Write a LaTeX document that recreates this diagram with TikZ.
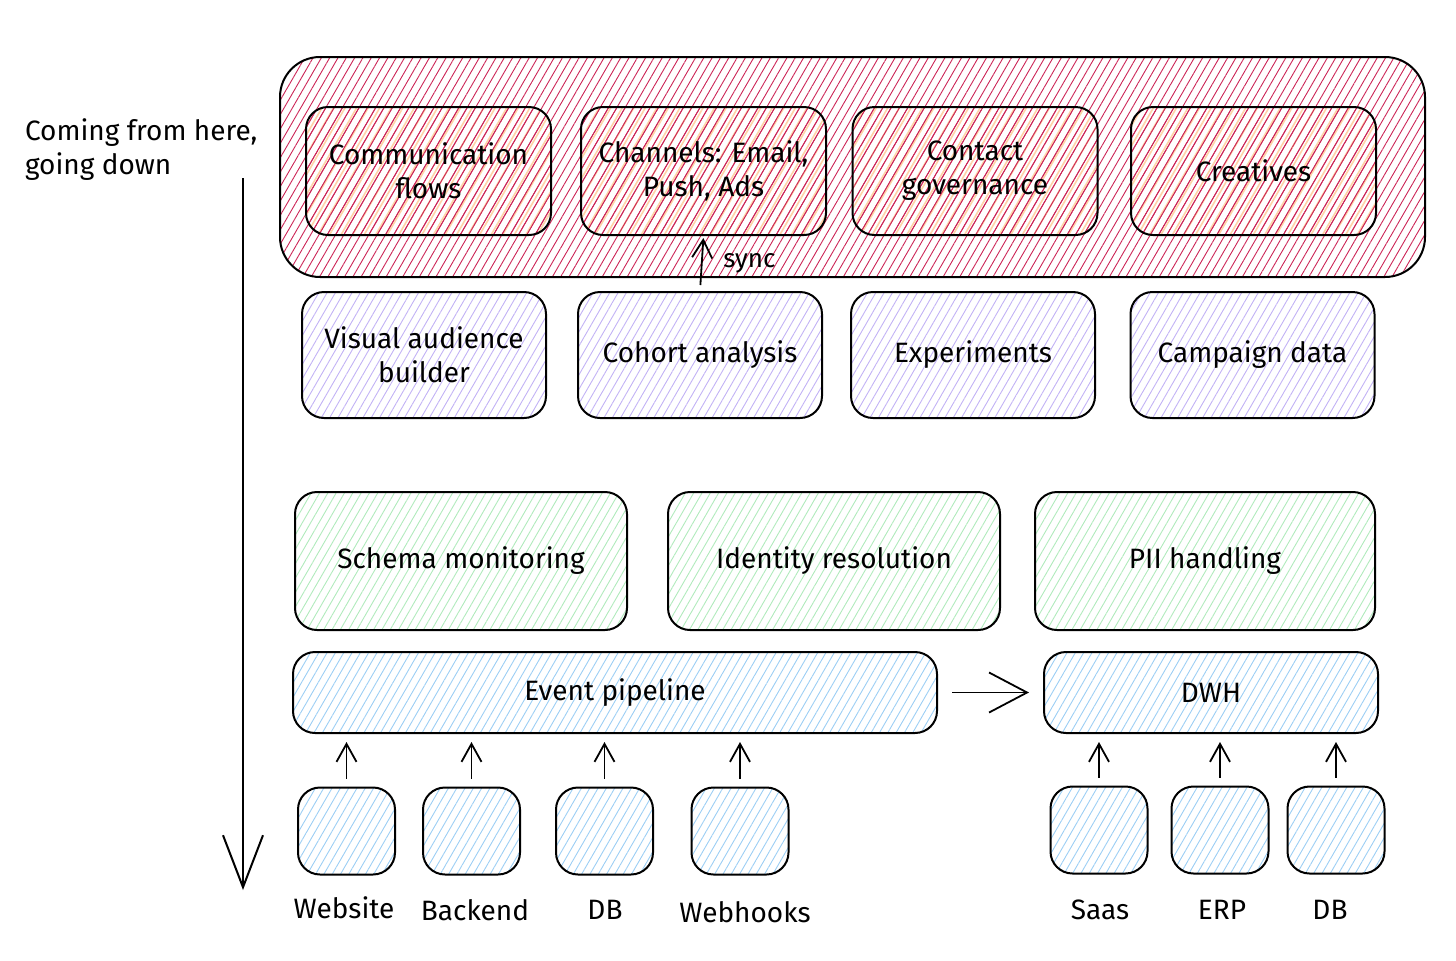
\documentclass[tikz,border=0pt]{standalone}
\usepackage{fontspec}
\setmainfont{Fira Sans}
\usetikzlibrary{arrows.meta}
\usetikzlibrary{patterns.meta}

\definecolor{hatchred}{HTML}{CC2557}
\definecolor{hatchpeach}{HTML}{FFD3A8}
\definecolor{hatchviolet}{HTML}{C2B2F5}
\definecolor{hatchgreen}{HTML}{B0EABC}
\definecolor{hatchblue}{HTML}{9CCEF4}

\tikzset{
  hatch/.style={pattern={Lines[angle=60,distance=3.6pt,line width=0.45pt]}, pattern color=#1},
  box/.style={draw=black, line width=1pt, rounded corners=11pt, align=center,
    font=\fontsize{14}{17}\selectfont},
  actbox/.style={box, hatch=hatchred,
    preaction={pattern={Lines[angle=60,distance=5pt,line width=0.8pt,xshift=1.6pt]}, pattern color=hatchpeach},
    minimum width=122.5pt, minimum height=64pt},
  segbox/.style={box, hatch=hatchviolet, minimum width=122pt, minimum height=63pt},
  dqbox/.style={box, hatch=hatchgreen, minimum height=69pt},
  srcbox/.style={box, hatch=hatchblue},
  smallsrc/.style={srcbox, minimum width=48.5pt, minimum height=43.5pt},
  srclabel/.style={font=\fontsize{14}{17}\selectfont},
  flow/.style={-{Straight Barb[length=9pt,width=10pt]}, line width=0.9pt, shorten <=4pt, shorten >=4pt}
}

\begin{document}
\begin{tikzpicture}[x=0.5pt, y=-0.5pt]
  \useasboundingbox (0,0) rectangle (1456,960);

  % activation layer
  \node[draw=black, line width=1pt, rounded corners=20pt, hatch=hatchred,
    minimum width=572.5pt, minimum height=110pt] (act) at (852.5,167) {};
  \node[actbox] (flows) at (428.5,171) {Communication\\flows};
  \node[actbox] (chn) at (703.5,171) {Channels: Email,\\Push, Ads};
  \node[actbox] (gov) at (975,171) {Contact\\governance};
  \node[actbox] (crt) at (1253.5,171) {Creatives};

  % segmentation layer
  \node[segbox] (vab) at (424,355) {Visual audience\\builder};
  \node[segbox] (coh) at (700,355) {Cohort analysis};
  \node[segbox] (exp) at (973,355) {Experiments};
  \node[segbox] (cmp) at (1252.5,355) {Campaign data};

  % data quality layer
  \node[dqbox, minimum width=166pt] (sch) at (461,561) {Schema monitoring};
  \node[dqbox, minimum width=166pt] (idr) at (834,561) {Identity resolution};
  \node[dqbox, minimum width=170pt] (pii) at (1205,561) {PII handling};

  % collection layer
  \node[srcbox, minimum width=322pt, minimum height=40.5pt] (evt) at (615,692.5) {Event pipeline};
  \node[srcbox, minimum width=167pt, minimum height=40.5pt] (dwh) at (1211,692.5) {DWH};

  \node[smallsrc] (web) at (346.5,831) {};
  \node[smallsrc] (bck) at (471.5,831) {};
  \node[smallsrc] (edb) at (604.5,831) {};
  \node[smallsrc] (hks) at (740,831) {};
  \node[smallsrc] (saas) at (1099,830) {};
  \node[smallsrc] (erp) at (1220,830) {};
  \node[smallsrc] (wdb) at (1336,830) {};

  \node[srclabel] (webl) at (344,908) {Website};
  \node[srclabel] (bckl) at (475,910) {Backend};
  \node[srclabel] (edbl) at (605,910) {DB};
  \node[srclabel] (hksl) at (745,912) {Webhooks};
  \node[srclabel] (saasl) at (1100,910) {Saas};
  \node[srclabel] (erpl) at (1222,910) {ERP};
  \node[srclabel] (wdbl) at (1330,910) {DB};

  % connectors
  \foreach \s in {web,bck,edb,hks}
    \draw[flow] (\s.north) -- (\s.north |- evt.south);
  \foreach \s in {saas,erp,wdb}
    \draw[flow] (\s.north) -- (\s.north |- dwh.south);
  \draw[flow, -{Straight Barb[length=19pt,width=20pt]}, shorten <=7pt, shorten >=7pt]
    (evt.east) -- (dwh.west);
  \draw[flow, shorten <=3pt, shorten >=1pt] (coh.north) -- (chn.south)
    node[pos=0.5, right=7pt, font=\fontsize{13}{15}\selectfont] (syncl) {sync};

  % direction note
  \node[align=left, anchor=west, font=\fontsize{14}{17}\selectfont] (note) at (18,150)
    {Coming from here,\\going down};
  \coordinate (dtop) at (243,178);
  \coordinate (dbot) at (243,890);
  \draw[-{Straight Barb[length=26pt,width=20pt]}, line width=1pt] (dtop) -- (dbot);
\end{tikzpicture}
\end{document}
